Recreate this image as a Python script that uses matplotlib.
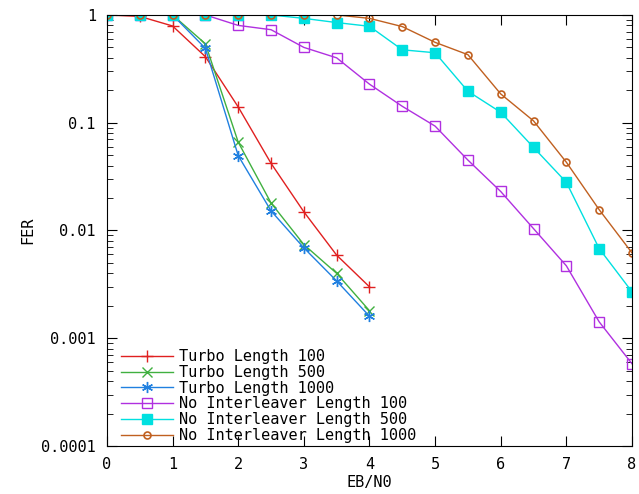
import numpy as np
import matplotlib.pyplot as plt
from matplotlib.ticker import LogLocator, FixedLocator, NullFormatter

plt.rcParams['font.family'] = ['DejaVu Sans Mono']

# Eb/N0 grid for each family of curves
ebn0_turbo = [0, 0.5, 1, 1.5, 2, 2.5, 3, 3.5, 4]
ebn0_noint = [0, 0.5, 1, 1.5, 2, 2.5, 3, 3.5, 4, 4.5, 5, 5.5, 6, 6.5, 7, 7.5, 8]

# Frame error rates
fer_turbo_100 = [1.0, 0.97, 0.79, 0.41, 0.14, 0.042, 0.0149, 0.0059, 0.0030]
fer_turbo_500 = [1.0, 1.0, 1.0, 0.54, 0.066, 0.018, 0.0074, 0.0040, 0.0018]
fer_turbo_1000 = [1.0, 1.0, 1.0, 0.49, 0.0495, 0.0152, 0.0069, 0.0034, 0.0016]
fer_noint_100 = [1.0, 1.0, 1.0, 1.0, 0.80, 0.73, 0.50, 0.40, 0.228, 0.142,
                 0.093, 0.045, 0.023, 0.0104, 0.0047, 0.00142, 0.00058]
fer_noint_500 = [1.0, 1.0, 1.0, 1.0, 1.0, 1.0, 0.93, 0.85, 0.785, 0.475,
                 0.446, 0.196, 0.125, 0.059, 0.028, 0.0068, 0.0027]
fer_noint_1000 = [1.0, 1.0, 1.0, 1.0, 1.0, 1.0, 1.0, 1.0, 0.93, 0.78,
                  0.557, 0.428, 0.185, 0.104, 0.043, 0.0156, 0.0062]

fig = plt.figure(figsize=(6.39, 4.94), dpi=100)
ax = fig.add_axes([0.1674, 0.0972, 0.8216, 0.8725])

asterisk = (6, 2, 0)
ax.plot(ebn0_turbo, fer_turbo_100, color='#e02020', marker='+', ms=8, lw=1,
        label='Turbo Length 100')
ax.plot(ebn0_turbo, fer_turbo_500, color='#40b040', marker='x', ms=7, lw=1,
        label='Turbo Length 500')
ax.plot(ebn0_turbo, fer_turbo_1000, color='#2080e0', marker=asterisk, ms=8, lw=1,
        label='Turbo Length 1000')
ax.plot(ebn0_noint, fer_noint_100, color='#b030e0', marker='s', ms=7, mfc='none',
        mew=1, lw=1, label='No Interleaver Length 100')
ax.plot(ebn0_noint, fer_noint_500, color='#00e0e0', marker='s', ms=7, lw=1,
        label='No Interleaver Length 500')
ax.plot(ebn0_noint, fer_noint_1000, color='#c06020', marker='o', ms=5, mfc='none',
        mew=1.2, lw=1, label='No Interleaver Length 1000')

ax.set_yscale('log')
ax.set_xlim(0, 8)
ax.set_ylim(1e-4, 1)
ax.xaxis.set_major_locator(FixedLocator(range(9)))
ax.yaxis.set_major_locator(FixedLocator([1e-4, 1e-3, 1e-2, 1e-1, 1]))
ax.set_yticklabels(['0.0001', '0.001', '0.01', '0.1', '1'])
ax.yaxis.set_minor_locator(LogLocator(base=10, subs=np.arange(2, 10)))
ax.yaxis.set_minor_formatter(NullFormatter())
ax.tick_params(which='both', direction='in', top=True, right=True,
               labelsize=11, pad=8)
ax.tick_params(which='major', length=7)
ax.tick_params(which='minor', length=4)

ax.set_xlabel('EB/N0', fontsize=11, labelpad=2)
ax.set_ylabel('FER', fontsize=11, labelpad=4)

ax.legend(loc='lower left', bbox_to_anchor=(0.013, -0.009), frameon=False,
          fontsize=11, handlelength=3.4, labelspacing=0.05, handletextpad=0.4,
          borderaxespad=0.15, borderpad=0.3)

fig.savefig('out.png', dpi=100)
